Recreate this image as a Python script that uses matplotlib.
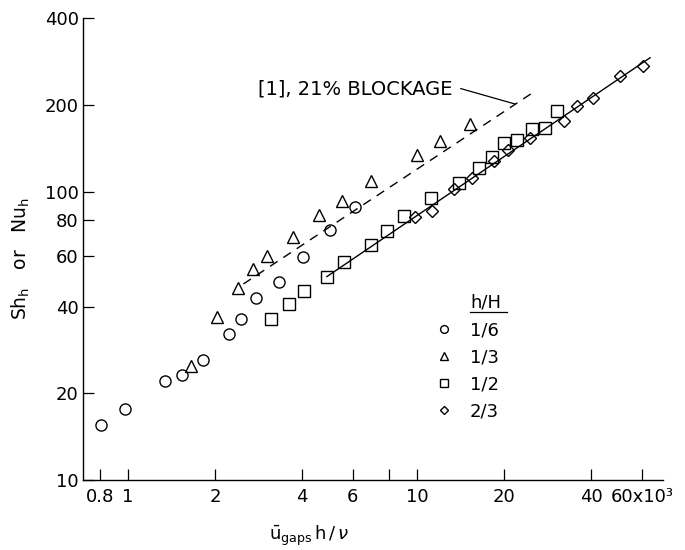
import matplotlib
matplotlib.use("Agg")
import matplotlib.pyplot as plt

# h/H = 1/6
circ_x = [0.81, 0.98, 1.34, 1.54, 1.82, 2.24, 2.46, 2.77, 3.34, 4.02, 5.0, 6.1]
circ_y = [15.5, 17.6, 22.1, 23.1, 26.0, 32.1, 36.1, 42.7, 48.8, 59.3, 73.9, 88.7]
# h/H = 1/3
tri_x = [1.65, 2.04, 2.40, 2.70, 3.02, 3.72, 4.58, 5.49, 6.92, 9.97, 12.0, 15.2]
tri_y = [24.9, 36.7, 46.4, 54.0, 59.9, 69.9, 83.0, 92.6, 109, 134, 150, 172]
# h/H = 1/2
sq_x = [3.12, 3.60, 4.08, 4.88, 5.60, 6.92, 7.86, 9.02, 11.2, 14.0, 16.4, 18.2,
        20.0, 22.2, 24.9, 27.7, 30.4]
sq_y = [36.3, 40.7, 45.3, 50.8, 57.3, 65.4, 73.3, 82.6, 94.8, 107, 121, 132,
        148, 151, 165, 166, 190]
# h/H = 2/3
diam_x = [9.84, 11.3, 13.4, 15.5, 18.4, 20.7, 24.6, 32.3, 35.9, 40.5, 50.4, 60.7]
diam_y = [81.5, 86, 102, 112, 128, 140, 154, 176, 198, 211, 253, 273]

# correlation lines
fit_x = [4.88, 64]
fit_y = [50.8, 291.6]
ref_x = [2.51, 25.9]   # [1], 21% blockage
ref_y = [47.9, 225]

xticks = [0.8, 1, 2, 4, 6, 8, 10, 20, 40, 60]
xlabels = ["0.8", "1", "2", "4", "6", "", "10", "20", "40", "60x10\u00b3"]
yticks = [10, 20, 40, 60, 80, 100, 200, 400]

plt.rcParams['font.family'] = ['DejaVu Sans']
plt.rcParams['mathtext.fontset'] = 'dejavusans'

fig = plt.figure(figsize=(6.85, 5.5), dpi=100)
ax = fig.add_axes([0.121, 0.127, 0.847, 0.840])

mk = dict(linestyle='none', mfc='none', mec='black', mew=1.0)
ax.plot(circ_x, circ_y, marker='o', ms=8, label='1/6', **mk)
ax.plot(tri_x, tri_y, marker='^', ms=8.5, label='1/3', **mk)
ax.plot(sq_x, sq_y, marker='s', ms=8.5, label='1/2', **mk)
ax.plot(diam_x, diam_y, marker='D', ms=6.5, label='2/3', **mk)

ax.plot(fit_x, fit_y, color='black', lw=1.0)
ax.plot(ref_x, ref_y, color='black', lw=1.0, dashes=(6.5, 5))

ax.set_xscale('log')
ax.set_yscale('log')
ax.set_xlim(0.699, 71)
ax.set_ylim(10, 400)

ax.set_xticks(xticks)
ax.set_xticklabels(xlabels)
ax.set_yticks(yticks)
ax.set_yticklabels([str(v) for v in yticks])
ax.minorticks_off()
ax.tick_params(direction='in', length=8, width=0.9, labelsize=13)
ax.tick_params(axis='y', pad=3)
ax.tick_params(axis='x', pad=6)

for s in ['top', 'right']:
    ax.spines[s].set_visible(False)
for s in ['left', 'bottom']:
    ax.spines[s].set_linewidth(1.0)

ax.set_ylabel(r"Sh$_\mathrm{h}$   or   Nu$_\mathrm{h}$", fontsize=13.5)
ax.yaxis.set_label_coords(-0.088, 0.48)
ax.set_xlabel(r"$\bar{\mathrm{u}}_{\mathrm{gaps}}\,\mathrm{h}\,/\,\nu$", fontsize=13)
ax.xaxis.set_label_coords(0.39, -0.095)

ax.annotate("[1], 21% BLOCKAGE", xy=(21.8, 201.6), xytext=(2.82, 227),
            fontsize=14, ha='left', va='center',
            arrowprops=dict(arrowstyle='-', color='black', lw=0.9,
                            relpos=(1.0, 0.65), shrinkA=4, shrinkB=0))

# legend, title drawn separately so it lines up with the labels
leg = ax.legend(loc='upper left', bbox_to_anchor=(0.595, 0.36), frameon=False,
                fontsize=13, markerscale=0.7, handlelength=1.0,
                handletextpad=0.9, labelspacing=0.5, borderaxespad=0)
ax.text(0.667, 0.385, "h/H", transform=ax.transAxes, fontsize=13,
        ha='left', va='center')
ax.plot([0.667, 0.731], [0.364, 0.364], transform=ax.transAxes,
        color='black', lw=0.9)

fig.savefig("out.png", dpi=100)
